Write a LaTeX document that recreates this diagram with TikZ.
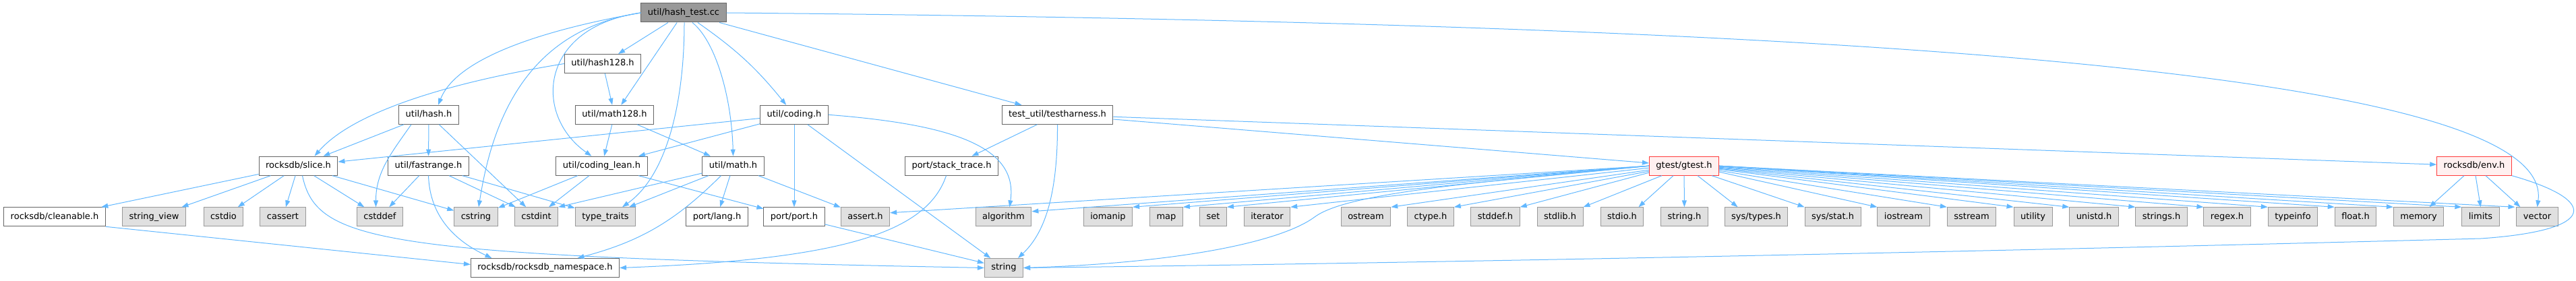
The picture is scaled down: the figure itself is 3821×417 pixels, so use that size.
\documentclass[tikz,border=0pt]{standalone}
\usepackage{fontspec}
\setmainfont{DejaVu Sans}
\usepackage{tikz}
\usetikzlibrary{arrows.meta,positioning}
\definecolor{edgeblue}{RGB}{99,184,255}
\definecolor{boxline}{HTML}{666666}
\definecolor{sysline}{HTML}{999999}
\definecolor{sysfill}{HTML}{E0E0E0}
\definecolor{rootfill}{HTML}{999999}
\definecolor{warnline}{HTML}{FF3B3B}
\definecolor{warnfill}{HTML}{FFF0F0}
\tikzset{
  incfile/.style={rectangle, draw=boxline, fill=white, line width=1pt, align=center, font=\fontsize{13pt}{15pt}\selectfont, inner xsep=10pt, inner ysep=0pt, text height=10pt, text depth=3pt, minimum height=28pt},
  incsys/.style={incfile, draw=sysline, fill=sysfill},
  incroot/.style={incfile, draw=boxline, fill=rootfill},
  incwarn/.style={incfile, draw=warnline, fill=warnfill},
  incarrow/.style={-{Triangle[length=10pt,width=7pt]}, draw=edgeblue, line width=1pt}
}
\begin{document}
\begin{tikzpicture}[x=1pt, y=1pt]
\useasboundingbox (0,0) rectangle (3821,417);

\node[incroot] (root) at (1014,398) {util/hash\_test.cc};

\node[incfile] (h128) at (894,322.5) {util/hash128.h};

\node[incfile] (hash) at (636,246.7) {util/hash.h};
\node[incfile] (m128) at (911.5,246.7) {util/math128.h};
\node[incfile] (coding) at (1178,246.7) {util/coding.h};
\node[incfile] (harness) at (1568.5,246.7) {test\_util/testharness.h};

\node[incfile] (slice) at (442.5,170.8) {rocksdb/slice.h};
\node[incfile] (frange) at (635.5,170.8) {util/fastrange.h};
\node[incfile] (lean) at (892.5,170.8) {util/coding\_lean.h};
\node[incfile] (mathh) at (1087.5,170.8) {util/math.h};
\node[incfile] (stack) at (1411.5,170.8) {port/stack\_trace.h};
\node[incwarn] (gtest) at (2498,170.8) {gtest/gtest.h};
\node[incwarn] (env) at (3670,170.8) {rocksdb/env.h};

\node[incfile] (cleanable) at (81,95.2) {rocksdb/cleanable.h};
\node[incsys] (sview) at (228.5,95.2) {string\_view};
\node[incsys] (cstdio) at (331.5,95.2) {cstdio};
\node[incsys] (cassert) at (419.5,95.2) {cassert};
\node[incsys] (cstddef) at (563.5,95.2) {cstddef};
\node[incsys] (cstring) at (706,95.2) {cstring};
\node[incsys] (cstdint) at (795.5,95.2) {cstdint};
\node[incsys] (ttraits) at (898,95.2) {type\_traits};
\node[incfile] (plang) at (1063.5,95.2) {port/lang.h};
\node[incfile] (pport) at (1178,95.2) {port/port.h};
\node[incsys] (asserth) at (1283.5,95.2) {assert.h};
\node[incsys] (algo) at (1488.5,95.2) {algorithm};
\node[incsys] (iomanip) at (1643.5,95.2) {iomanip};
\node[incsys] (map) at (1730,95.2) {map};
\node[incsys] (set) at (1799.5,95.2) {set};
\node[incsys] (iterator) at (1879.5,95.2) {iterator};
\node[incsys] (ostream) at (2026,95.2) {ostream};
\node[incsys] (ctype) at (2122,95.2) {ctype.h};
\node[incsys] (stddefh) at (2218,95.2) {stddef.h};
\node[incsys] (stdlibh) at (2314,95.2) {stdlib.h};
\node[incsys] (stdioh) at (2406,95.2) {stdio.h};
\node[incsys] (stringh) at (2498.5,95.2) {string.h};
\node[incsys] (systypes) at (2605,95.2) {sys/types.h};
\node[incsys] (sysstat) at (2718.5,95.2) {sys/stat.h};
\node[incsys] (iostream) at (2823.5,95.2) {iostream};
\node[incsys] (sstream) at (2924.5,95.2) {sstream};
\node[incsys] (utility) at (3015.5,95.2) {utility};
\node[incsys] (unistd) at (3106,95.2) {unistd.h};
\node[incsys] (stringsh) at (3206,95.2) {strings.h};
\node[incsys] (regex) at (3303.5,95.2) {regex.h};
\node[incsys] (typeinfo) at (3401,95.2) {typeinfo};
\node[incsys] (floath) at (3494,95.2) {float.h};
\node[incsys] (memory) at (3587.5,95.2) {memory};
\node[incsys] (limits) at (3679.5,95.2) {limits};
\node[incsys] (vector) at (3763.5,95.2) {vector};

\node[incfile] (ns) at (808.5,19.5) {rocksdb/rocksdb\_namespace.h};
\node[incsys] (string) at (1489,19.5) {string};

\draw[incarrow] (root.west) .. controls (830,377) and (680,337) .. ([xshift=14pt]hash.north);
\draw[incarrow] (root) -- (h128);
\draw[incarrow] (root) -- (m128);
\draw[incarrow] (root.west) .. controls (800,377) and (790,247) .. ([xshift=-15pt]lean.north);
\draw[incarrow] (root.west) .. controls (780,372) and (730,237) .. ([xshift=4pt]cstring.north);
\draw[incarrow] ([xshift=1pt]root.south) .. controls (1015,267) and (990,157) .. ([xshift=25pt]ttraits.north);
\draw[incarrow] ([xshift=13pt]root.south) .. controls (1060,357) and (1085,277) .. (mathh.north);
\draw[incarrow] (root) to[bend left=8] (coding);
\draw[incarrow] (root) -- (harness);
\draw[incarrow] (root.east) .. controls (2800,382) and (3790,307) .. (vector.north);

\draw[incarrow] (h128.west) .. controls (650,292) and (520,247) .. ([xshift=24pt]slice.north);
\draw[incarrow] (h128) -- (m128);

\draw[incarrow] (hash) -- (slice);
\draw[incarrow] ([xshift=-26pt]hash.south) to[out=-125,in=90] ([xshift=-6pt]cstddef.north);
\draw[incarrow] (hash) -- (frange);
\draw[incarrow] (hash) -- (cstdint);

\draw[incarrow] (m128) -- (lean);
\draw[incarrow] (m128) -- (mathh);

\draw[incarrow] (coding) -- (slice);
\draw[incarrow] (coding) -- (lean);
\draw[incarrow] (coding) -- (pport);
\draw[incarrow] (coding) -- (string);
\draw[incarrow] (coding.east) .. controls (1420,232) and (1510,197) .. ([xshift=9pt]algo.north);

\draw[incarrow] (harness) -- (stack);
\draw[incarrow] (harness.south) .. controls (1569,117) and (1545,67) .. ([xshift=21pt]string.north);
\draw[incarrow] (harness) -- (gtest);
\draw[incarrow] (harness) -- (env);

\draw[incarrow] (slice) -- (cleanable);
\draw[incarrow] (slice) -- (sview);
\draw[incarrow] (slice) -- (cstdio);
\draw[incarrow] (slice) -- (cassert);
\draw[incarrow] (slice) -- (cstddef);
\draw[incarrow] (slice) -- (cstring);
\draw[incarrow] ([xshift=6pt]slice.south) .. controls (470,57) and (560,37) .. (string.west);

\draw[incarrow] (frange) -- (cstddef);
\draw[incarrow] (frange.south) to[out=-88,in=155] ([xshift=-79pt]ns.north);
\draw[incarrow] (frange) -- (cstdint);
\draw[incarrow] (frange) -- (ttraits);

\draw[incarrow] (cleanable.south east) -- ([yshift=5pt]ns.west);

\draw[incarrow] (lean) -- (cstring);
\draw[incarrow] (lean) -- (cstdint);
\draw[incarrow] (lean) -- (pport);

\draw[incarrow] (mathh) -- (plang);
\draw[incarrow] (mathh) -- (asserth);
\draw[incarrow] (mathh) -- (cstdint.north east);
\draw[incarrow] (mathh) -- ([xshift=35pt]ttraits.north);
\draw[incarrow] ([xshift=-18pt]mathh.south) to[bend left=15] ([xshift=48pt]ns.north);

\draw[incarrow] (pport) -- (string);
\draw[incarrow] ([xshift=-8pt]stack.south) .. controls (1375,72) and (1250,32) .. (ns.east);

\draw[incarrow] (gtest.west) -- ([yshift=6pt]asserth.east);
\draw[incarrow] (gtest.west) -- ([yshift=8pt]algo.east);
\draw[incarrow] (gtest.west) -- (iomanip.north east);
\draw[incarrow] (gtest.west) -- (map.north east);
\draw[incarrow] (gtest.west) -- (set.north east);
\draw[incarrow] ([yshift=-3pt]gtest.west) -- (iterator.north east);
\draw[incarrow] ([yshift=-6pt]gtest.west) -- (ostream.north east);
\draw[incarrow] ([yshift=-8pt]gtest.west) -- (ctype.north east);
\draw[incarrow] ([yshift=-10pt]gtest.west) -- (stddefh.north east);
\draw[incarrow] ([xshift=19pt]gtest.south west) -- (stdlibh.north east);
\draw[incarrow] ([xshift=-16pt]gtest.south) -- ([xshift=-8pt]stdioh.north east);
\draw[incarrow] (gtest) -- (stringh);
\draw[incarrow] ([xshift=20pt]gtest.south) -- ([xshift=20pt]systypes.north west);
\draw[incarrow] ([xshift=-11pt]gtest.south east) -- (sysstat.north west);
\draw[incarrow] ([yshift=-9pt]gtest.east) -- (iostream.north west);
\draw[incarrow] ([yshift=-7pt]gtest.east) -- (sstream.north west);
\draw[incarrow] ([yshift=-5pt]gtest.east) -- (utility.north west);
\draw[incarrow] ([yshift=-4pt]gtest.east) -- (unistd.north west);
\draw[incarrow] ([yshift=-3pt]gtest.east) -- (stringsh.north west);
\draw[incarrow] ([yshift=-2pt]gtest.east) -- (regex.north west);
\draw[incarrow] ([yshift=-1pt]gtest.east) -- (typeinfo.north west);
\draw[incarrow] (gtest.east) -- (floath.north west);
\draw[incarrow] (gtest.east) -- (memory.north west);
\draw[incarrow] (gtest.east) -- (limits.north west);
\draw[incarrow] (gtest.east) -- ([xshift=-2pt]vector.north west);
\draw[incarrow] (gtest.west) .. controls (2200,147) and (2000,132) .. (1950,95) .. controls (1900,58) and (1750,27) .. (string.east);

\draw[incarrow] ([xshift=-15pt]env.south) -- ([xshift=16pt]memory.north);
\draw[incarrow] ([xshift=2pt]env.south) -- (limits.north);
\draw[incarrow] ([xshift=17pt]env.south) -- ([xshift=6pt]vector.north west);
\draw[incarrow] (env.south east) .. controls (3855,120) and (3855,75) .. (3680,63) .. controls (3000,45) and (2200,28) .. (string.east);
\end{tikzpicture}
\end{document}
